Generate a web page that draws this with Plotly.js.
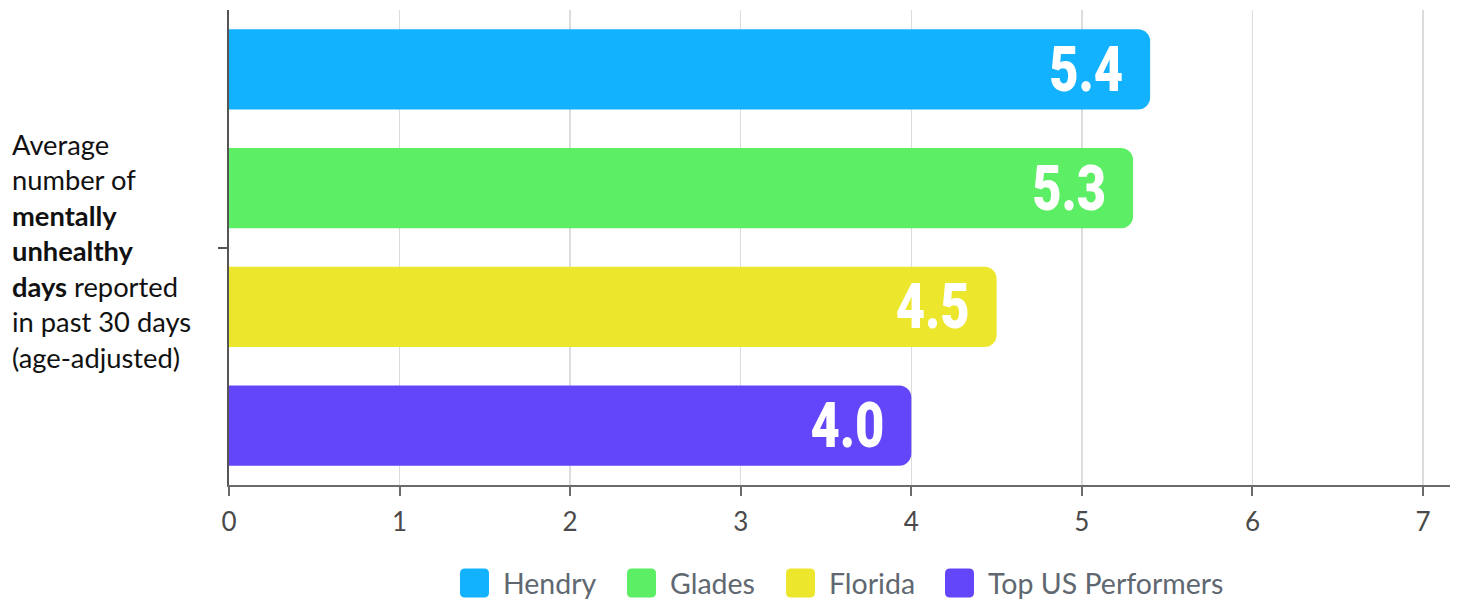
<!DOCTYPE html>
<html>
<head>
<meta charset="utf-8">
<script src="https://cdn.plot.ly/plotly-3.0.1.min.js"></script>
<style>
  html, body { margin: 0; padding: 0; background: #fff; }
  #chart { width: 1460px; height: 603px; }
</style>
</head>
<body>
<div id="chart"></div>
<script>
// ---- data ----
const category = ["Average number of mentally unhealthy days"];
const seriesNames = ["Hendry", "Glades", "Florida", "Top US Performers"];
const seriesValues = [5.4, 5.3, 4.5, 4.0];
const seriesColors = ["#12B2FF", "#5CEE64", "#ECE72C", "#6446FA"];
const xTickValues = [0, 1, 2, 3, 4, 5, 6, 7];
const yTitleLines = ["Average", "number of", "<b>mentally</b>", "<b>unhealthy</b>", "<b>days</b> reported", "in past 30 days", "(age-adjusted)"];

// ---- layout constants ----
const W = 1460, H = 603;
const M = {l: 229, r: 10, t: 10, b: 118};
const PW = W - M.l - M.r, PH = H - M.t - M.b;
const px2x = p => (p - M.l) / PW;
const py2y = p => (H - M.b - p) / PH;
const LABEL_SQUEEZE = 0.8;    // condensed look for value labels
const LABEL_PAD = 25;         // extra right padding inside bars (px)

const traces = seriesNames.map((name, i) => ({
  type: "bar",
  orientation: "h",
  name: name,
  y: category,
  x: [seriesValues[i]],
  marker: {color: seriesColors[i], cornerradius: 12, line: {width: 0}},
  texttemplate: "%{x:.1f}",
  textposition: "inside",
  insidetextanchor: "end",
  constraintext: "none",
  textfont: {family: "Roboto, sans-serif", size: 106, color: "#ffffff", weight: 900},
  hoverinfo: "x+name",
  showlegend: false
}));

// custom legend (large rounded swatches)
const legendSquareX = [460, 627, 786, 945];
const sq = 29, legY = 583;
const shapes = [];
const annotations = [];
function roundRectPath(x0, y0, x1, y1, r) {
  return `M${x0+r},${y0} L${x1-r},${y0} Q${x1},${y0} ${x1},${y0+r} L${x1},${y1-r} Q${x1},${y1} ${x1-r},${y1} L${x0+r},${y1} Q${x0},${y1} ${x0},${y1-r} L${x0},${y0+r} Q${x0},${y0} ${x0+r},${y0} Z`;
}
seriesNames.forEach((name, i) => {
  const x0 = legendSquareX[i];
  shapes.push({
    type: "path", xref: "paper", yref: "paper", xsizemode: "pixel", ysizemode: "pixel",
    xanchor: px2x(x0), yanchor: py2y(legY),
    path: roundRectPath(0, -sq/2, sq, sq/2, 5),
    fillcolor: seriesColors[i], line: {width: 0}
  });
  annotations.push({
    xref: "paper", yref: "paper", x: px2x(x0 + sq + 12), y: py2y(legY),
    xanchor: "left", yanchor: "middle", showarrow: false,
    text: name, font: {family: "Lato, sans-serif", size: 28.5, color: "#5f6870"}
  });
});

annotations.push({
  xref: "paper", yref: "paper", x: px2x(10), y: 0.5, yshift: -3,
  xanchor: "left", yanchor: "middle", align: "left", showarrow: false,
  text: yTitleLines.join("<br>"),
  font: {family: "Lato, sans-serif", size: 27.3, color: "#111111"}
});

const layout = {
  width: W, height: H,
  margin: M,
  paper_bgcolor: "#ffffff",
  plot_bgcolor: "#ffffff",
  barmode: "group",
  bargap: 0,
  bargroupgap: 0.326,
  showlegend: false,
  xaxis: {
    range: [0, 7.158],
    tickvals: xTickValues,
    showgrid: true, gridcolor: "#dcdcdc", gridwidth: 1.5,
    zeroline: false,
    showline: true, linecolor: "#6b6b6b", linewidth: 2,
    ticks: "outside", ticklen: 9, tickcolor: "#6b6b6b", tickwidth: 2,
    ticklabelstandoff: 4,
    tickfont: {family: "Lato, sans-serif", size: 26, color: "#4a4a4a"},
    fixedrange: true
  },
  yaxis: {
    type: "category",
    autorange: "reversed",
    showgrid: false, zeroline: false,
    showline: true, linecolor: "#555555", linewidth: 2,
    ticks: "outside", ticklen: 9, tickcolor: "#555555", tickwidth: 2,
    showticklabels: false,
    fixedrange: true
  },
  shapes: shapes,
  annotations: annotations
};

Plotly.newPlot("chart", traces, layout, {displayModeBar: false, staticPlot: true}).then(gd => {
  gd.querySelectorAll("text.bartext").forEach(t => {
    const bb = t.getBBox();
    const R = bb.x + bb.width;
    const tr = t.getAttribute("transform") || "";
    t.setAttribute("transform", `${tr} translate(${R - LABEL_PAD},0) scale(${LABEL_SQUEEZE},1) translate(${-R},0)`);
  });
});
</script>
</body>
</html>
